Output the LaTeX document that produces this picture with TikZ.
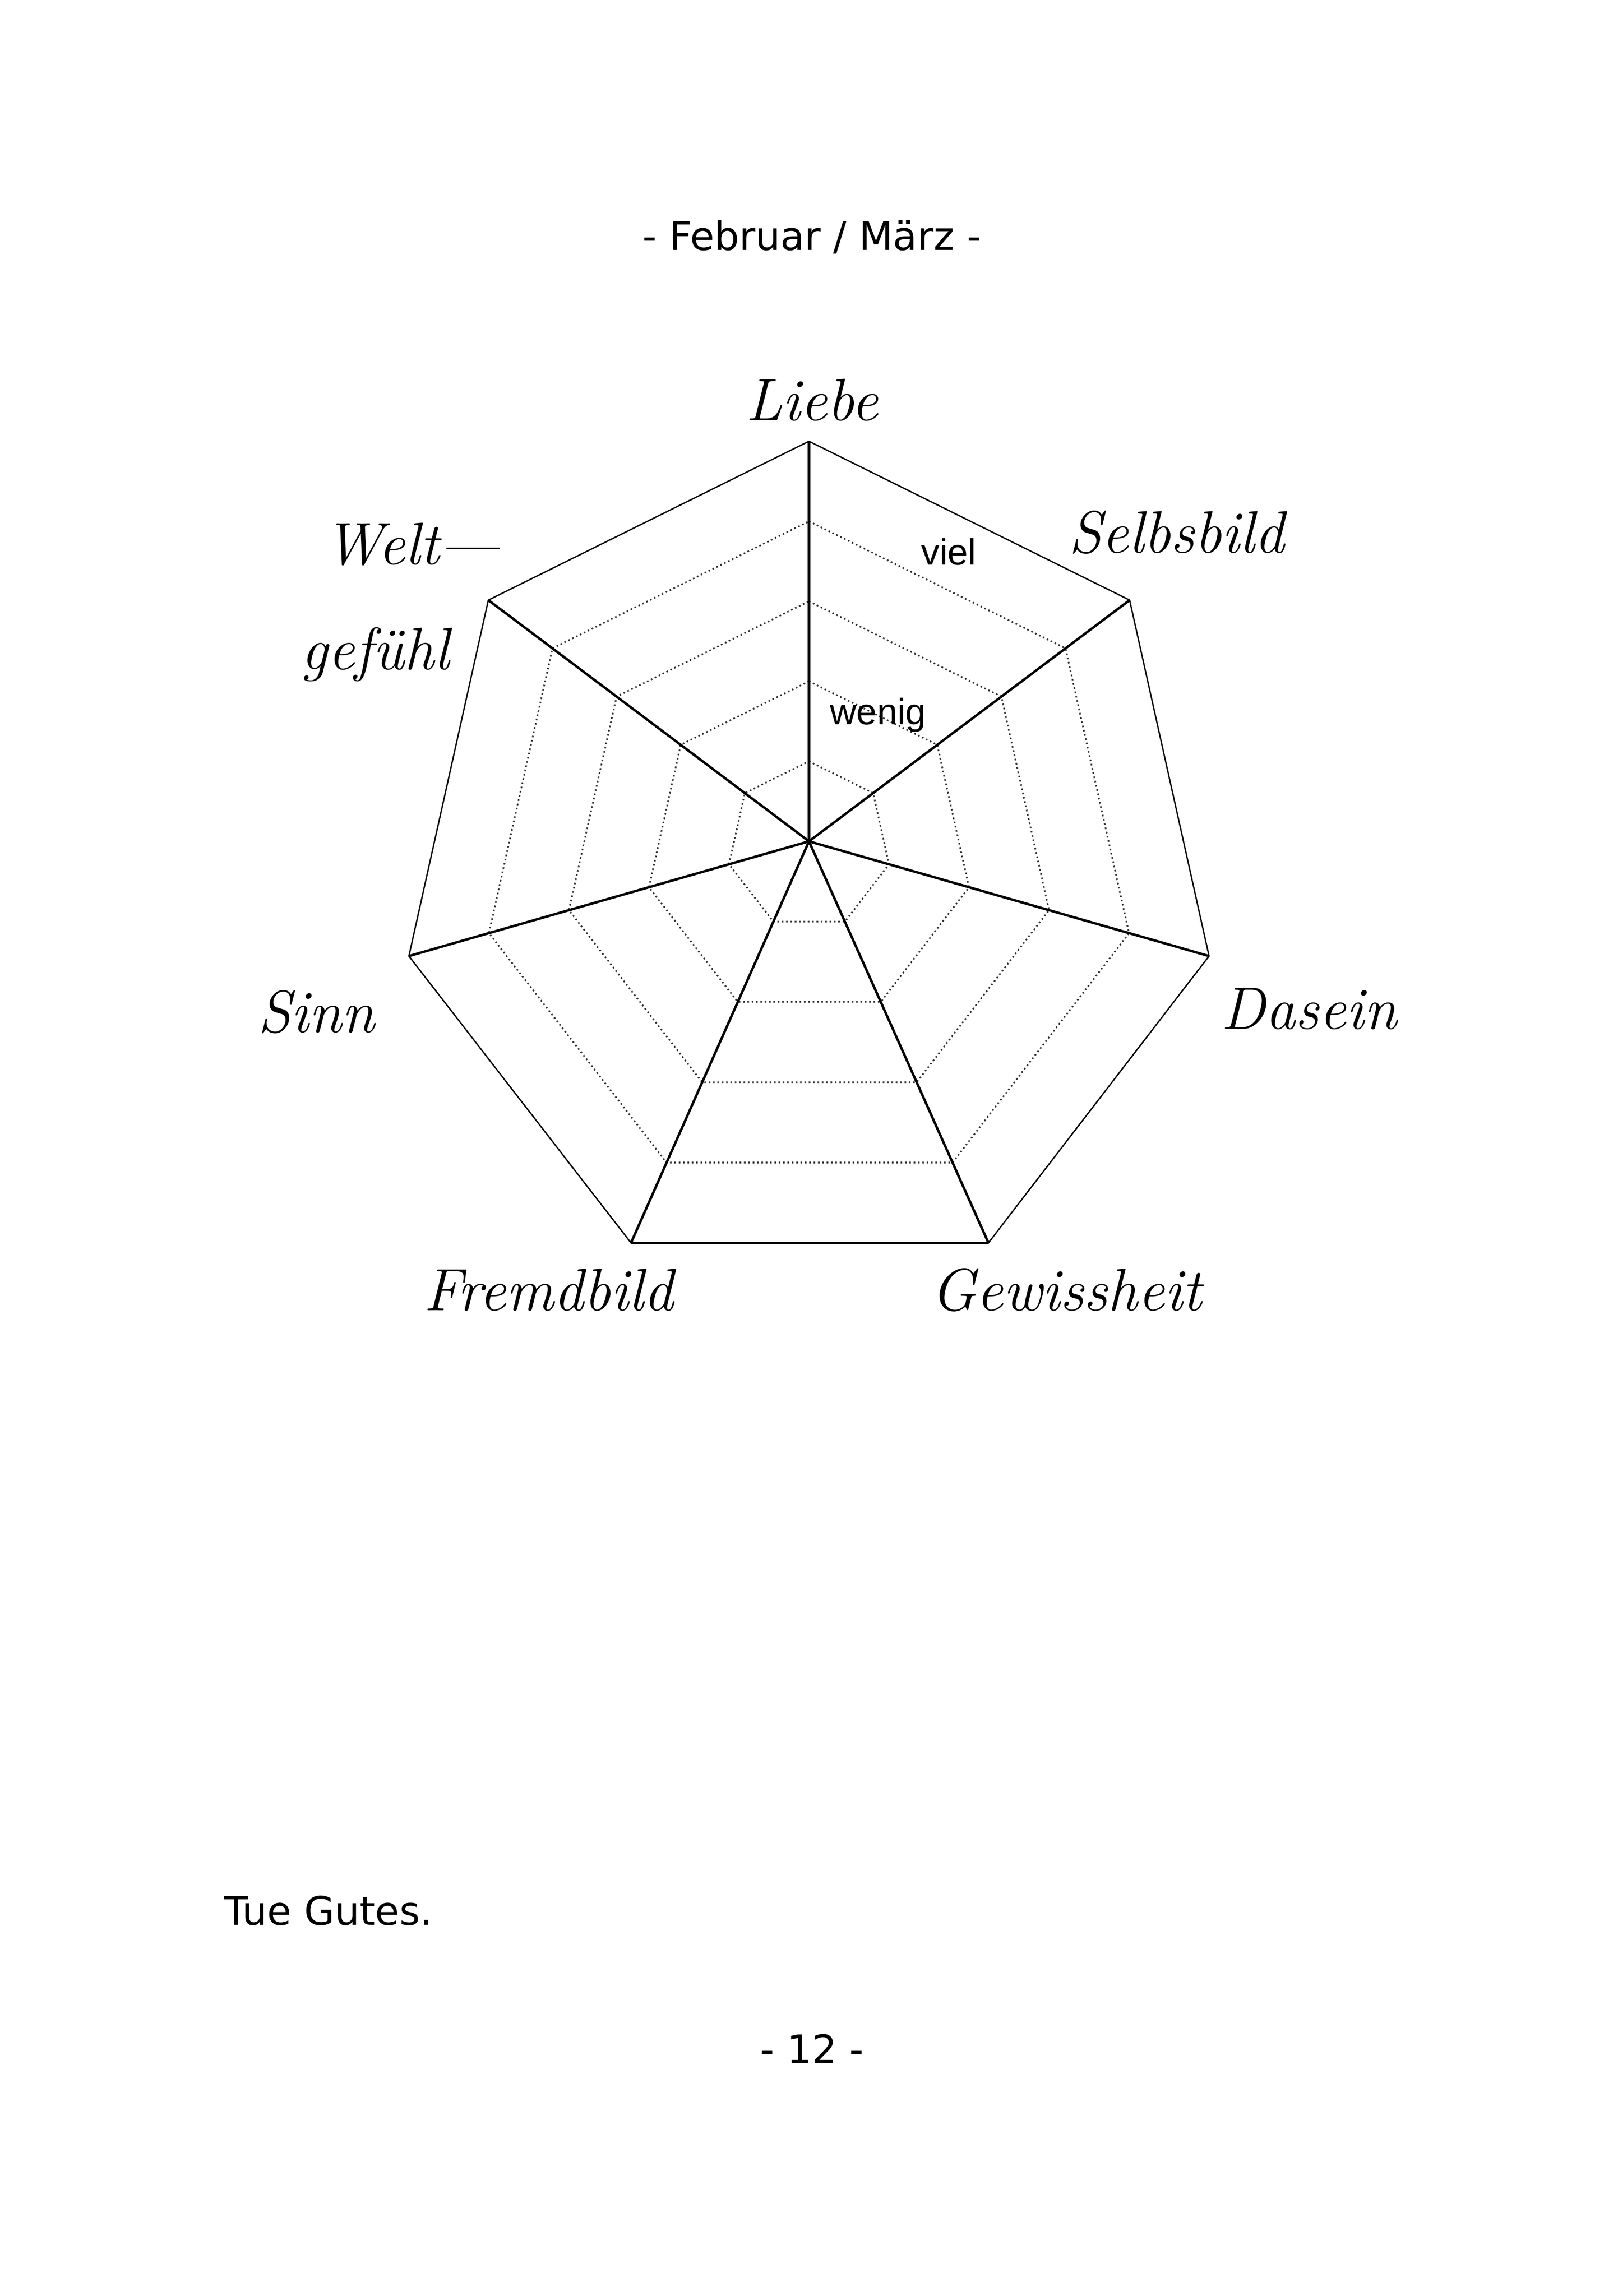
\documentclass[tikz,border=0pt]{standalone}
\usetikzlibrary{calc}
\usepackage{fontspec}
\setmainfont{DejaVu Sans}
\newfontfamily\scr{Latin Modern Roman}
\newfontfamily\arialf{Liberation Sans}
\begin{document}
\begin{tikzpicture}[x=0.541pt,y=-0.541pt,
  lab/.style={font=\scr\itshape\fontsize{22}{24}\selectfont},
  spoke/.style={line width=0.9pt},
  ring/.style={densely dotted,line width=0.6pt,gray!40!black}]
\useasboundingbox (0,0) rectangle (1100,1561);
\coordinate (C) at (550,572);
\coordinate (P1) at (550,300);
\coordinate (P2) at (768,408);
\coordinate (P3) at (822,650);
\coordinate (P4) at (672,845);
\coordinate (P5) at (429,845);
\coordinate (P6) at (278,650);
\coordinate (P7) at (332,408);
\foreach \f in {0.2,0.4,0.6,0.8}
  \draw[ring] ($(C)!\f!(P1)$) -- ($(C)!\f!(P2)$) -- ($(C)!\f!(P3)$) -- ($(C)!\f!(P4)$) -- ($(C)!\f!(P5)$) -- ($(C)!\f!(P6)$) -- ($(C)!\f!(P7)$) -- cycle;
\draw[line width=0.5pt] (P1) -- (P2) -- (P3) -- (P4) -- (P5) -- (P6) -- (P7) -- cycle;
\foreach \i in {1,...,7} \draw[spoke] (C) -- (P\i);
\draw[spoke] (P4) -- (P5);
\node (title) at (552,161) {\fontsize{14.5}{16}\selectfont - Februar / März -};
\node[lab] (l1) at (552,272) {Liebe};
\node[lab] (l2) at (800,362) {Selbsbild};
\node[lab] (l3) at (890,686) {Dasein};
\node[lab] (l4) at (725,877) {Gewissheit};
\node[lab] (l5) at (373,877) {Fremdbild};
\node[lab] (l6) at (215,688) {Sinn};
\node[lab] (l7a) at (280,370) {Welt—};
\node[lab] (l7b) at (255,445) {gefühl};
\node[font=\arialf\fontsize{13.5}{15}\selectfont] (viel) at (645,375) {viel};
\node[font=\arialf\fontsize{13.5}{15}\selectfont] (wenig) at (597,486) {wenig};
\node[anchor=west,font=\fontsize{14.5}{16}\selectfont] (tue) at (146,1299) {Tue Gutes.};
\node[font=\fontsize{14.5}{16}\selectfont] (pg) at (552,1393) {- 12 -};
\end{tikzpicture}
\end{document}
